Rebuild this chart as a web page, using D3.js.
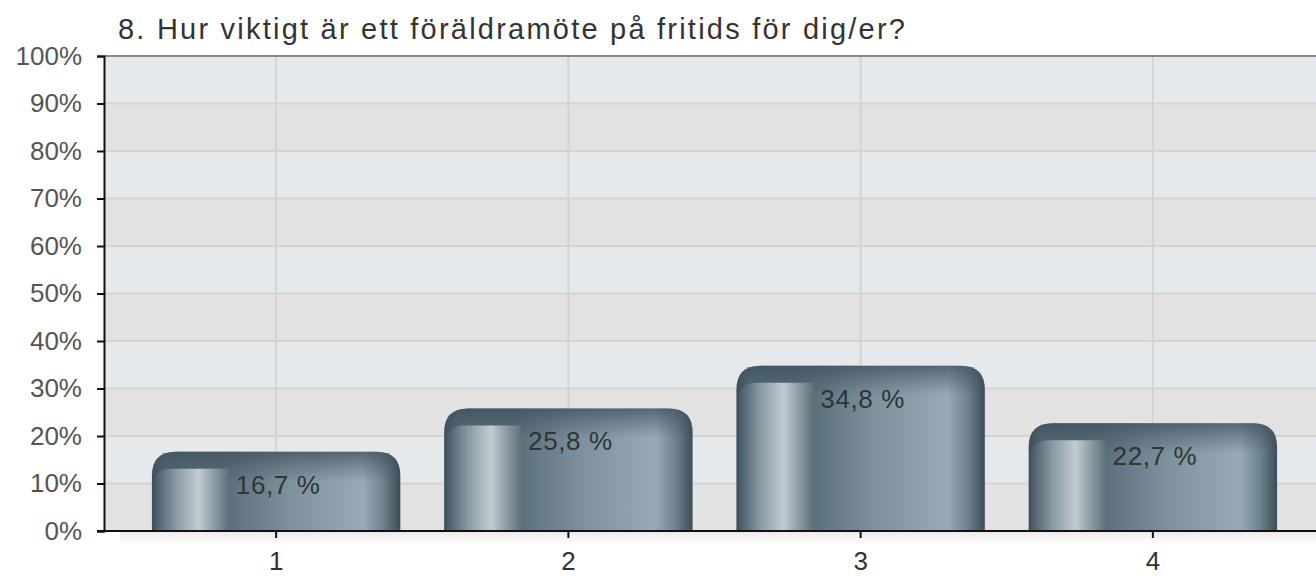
<!DOCTYPE html>
<html>
<head>
<meta charset="utf-8">
<script src="https://cdn.jsdelivr.net/npm/d3@7"></script>
<style>
  html, body { margin: 0; padding: 0; background: #fff; }
  svg { display: block; font-family: "Liberation Sans", Arial, sans-serif; }
</style>
</head>
<body>
<script>
const title = '8. Hur viktigt är ett föräldramöte på fritids för dig/er?';
const categories = ['1', '2', '3', '4'];
const values = [0.167, 0.258, 0.348, 0.227];
const valueLabels = ['16,7 %', '25,8 %', '34,8 %', '22,7 %'];
const yTicks = [0, 0.1, 0.2, 0.3, 0.4, 0.5, 0.6, 0.7, 0.8, 0.9, 1];

const width = 1316;
const height = 578;
const plotLeft = 104;
const plotRight = 1316;
const plotTop = 56;
const plotBottom = 531;
const font = '"Liberation Sans", Arial, sans-serif';

function main() {
  const svg = d3.select('body').append('svg').attr('width', width).attr('height', height);
  createDefs(svg);

  const xScale = d3.scaleBand()
    .domain(categories)
    .range([130, 1299])
    .paddingInner(0.15)
    .paddingOuter(0.075);
  const yScale = d3.scaleLinear().domain([0, 1]).range([plotBottom, plotTop]);

  // alternating background bands, top one light
  svg.append('g')
    .selectAll('rect')
    .data(yTicks.slice(0, -1))
    .join('rect')
    .attr('x', plotLeft)
    .attr('y', d => yScale(d + 0.1))
    .attr('width', plotRight - plotLeft)
    .attr('height', d => yScale(d) - yScale(d + 0.1))
    .attr('fill', (d, i) => (i % 2 === 1 ? '#e6e9ec' : '#e2e2e3'));

  // grid
  svg.append('g')
    .selectAll('line')
    .data(yTicks.slice(1, -1))
    .join('line')
    .attr('x1', plotLeft)
    .attr('x2', plotRight)
    .attr('y1', d => yScale(d))
    .attr('y2', d => yScale(d))
    .attr('stroke', '#d3d3d3')
    .attr('stroke-width', 2);

  svg.append('g')
    .selectAll('line')
    .data(categories)
    .join('line')
    .attr('x1', d => xScale(d) + xScale.bandwidth() / 2)
    .attr('x2', d => xScale(d) + xScale.bandwidth() / 2)
    .attr('y1', plotTop)
    .attr('y2', plotBottom)
    .attr('stroke', '#d3d3d3')
    .attr('stroke-width', 2);

  // top border
  svg.append('line')
    .attr('x1', plotLeft).attr('x2', plotRight)
    .attr('y1', plotTop).attr('y2', plotTop)
    .attr('stroke', '#8a8a8a')
    .attr('stroke-width', 2);

  // shadow under x axis
  svg.append('rect')
    .attr('x', 120)
    .attr('y', plotBottom + 1)
    .attr('width', plotRight - 120)
    .attr('height', 12)
    .attr('fill', 'url(#shadowGrad)');

  // bars
  const bw = xScale.bandwidth();
  const bars = svg.append('g')
    .selectAll('g')
    .data(categories.map((c, i) => ({ cat: c, value: values[i], label: valueLabels[i] })))
    .join('g')
    .attr('transform', d => `translate(${xScale(d.cat)},0)`);

  bars.append('path')
    .attr('d', d => roundedTop(0, yScale(d.value), bw, plotBottom - yScale(d.value), 24))
    .attr('fill', 'url(#barGrad)');

  bars.append('path')
    .attr('d', d => roundedTop(0, yScale(d.value), bw, Math.min(30, plotBottom - yScale(d.value)), 24))
    .attr('fill', 'url(#topGrad)');

  bars.append('path')
    .attr('d', d => roundedLeft(2, yScale(d.value) + 17, 75, plotBottom - yScale(d.value) - 17, 18))
    .attr('fill', 'url(#panelGrad)');

  bars.append('text')
    .attr('x', bw / 2 + 2)
    .attr('y', d => yScale(d.value) + 42)
    .attr('text-anchor', 'middle')
    .attr('font-size', 26)
    .attr('letter-spacing', 0.6)
    .attr('fill', '#2e3438')
    .text(d => d.label);

  // axes
  const yAxis = d3.axisLeft(yScale)
    .tickValues(yTicks)
    .tickFormat(d => Math.round(d * 100) + '%')
    .tickSize(7)
    .tickPadding(15);
  const gy = svg.append('g')
    .attr('transform', `translate(${plotLeft},0)`)
    .call(yAxis);
  gy.select('.domain').attr('stroke', '#111').attr('stroke-width', 2);
  gy.selectAll('.tick line').attr('stroke', '#111').attr('stroke-width', 2);
  gy.selectAll('.tick text')
    .attr('font-size', 26)
    .attr('font-family', font)
    .attr('fill', '#555');

  const xAxis = d3.axisBottom(xScale).tickSize(7).tickSizeOuter(0).tickPadding(14);
  const gx = svg.append('g')
    .attr('transform', `translate(0,${plotBottom})`)
    .call(xAxis);
  gx.select('.domain').remove();
  gx.append('line')
    .attr('x1', plotLeft - 7).attr('x2', plotRight)
    .attr('stroke', '#111').attr('stroke-width', 2);
  gx.selectAll('.tick line').attr('stroke', '#111').attr('stroke-width', 2);
  gx.selectAll('.tick text')
    .attr('font-size', 26)
    .attr('font-family', font)
    .attr('fill', '#333');

  svg.append('text')
    .attr('x', 118)
    .attr('y', 39)
    .attr('font-size', 29)
    .attr('fill', '#333')
    .attr('textLength', 787)
    .attr('lengthAdjust', 'spacing')
    .text(title);
}

function roundedTop(x, y, w, h, r) {
  r = Math.min(r, h, w / 2);
  return `M${x},${y + h}V${y + r}Q${x},${y} ${x + r},${y}H${x + w - r}Q${x + w},${y} ${x + w},${y + r}V${y + h}Z`;
}

function roundedLeft(x, y, w, h, r) {
  if (h <= 0) return '';
  r = Math.min(r, h, w);
  return `M${x},${y + h}V${y + r}Q${x},${y} ${x + r},${y}H${x + w}V${y + h}Z`;
}

function createDefs(svg) {
  const defs = svg.append('defs');

  const addGrad = (id, stops, vertical) => {
    const g = defs.append('linearGradient')
      .attr('id', id)
      .attr('x1', 0).attr('y1', 0)
      .attr('x2', vertical ? 0 : 1).attr('y2', vertical ? 1 : 0);
    stops.forEach(s => g.append('stop')
      .attr('offset', s[0])
      .attr('stop-color', s[1])
      .attr('stop-opacity', s[2] === undefined ? 1 : s[2]));
  };

  addGrad('barGrad', [
    [0, '#3b4e59'],
    [0.05, '#556a76'],
    [0.3, '#5b6f7a'],
    [0.55, '#7d909b'],
    [0.85, '#97aab5'],
    [0.93, '#6f838e'],
    [1, '#3c4d57']
  ]);
  addGrad('topGrad', [
    [0, '#3e515c', 0.75],
    [0.5, '#3e515c', 0.35],
    [1, '#3e515c', 0]
  ], true);
  addGrad('panelGrad', [
    [0, '#445864'],
    [0.3, '#8a9ba5'],
    [0.6, '#c3ccd1'],
    [0.75, '#9aa8b0'],
    [1, '#5d707b']
  ]);
  addGrad('shadowGrad', [
    [0, '#000', 0.08],
    [1, '#000', 0]
  ], true);
}

main();
</script>
</body>
</html>
